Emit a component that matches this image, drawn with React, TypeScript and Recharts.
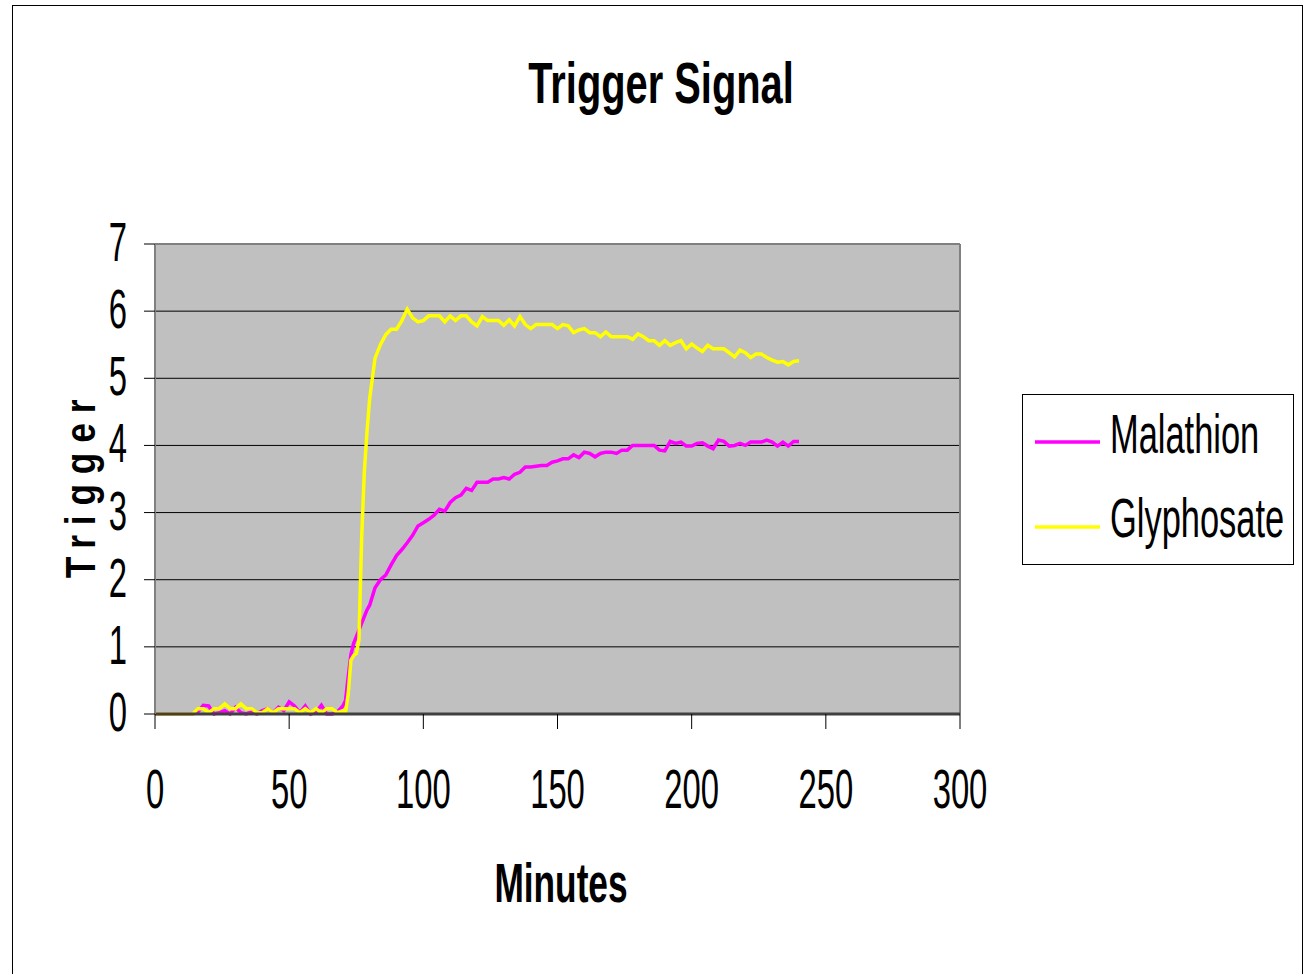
import React from "react";
import {
  LineChart,
  Line,
  XAxis,
  YAxis,
  CartesianGrid,
  ReferenceLine,
} from "recharts";

const FONT = "'Liberation Sans', Arial, sans-serif";

const minutes = [
  0, 2, 4, 6, 8, 10, 12, 14, 16, 18, 20, 22, 24, 26, 28, 30, 32, 34, 36, 38,
  40, 42, 44, 46, 48, 50, 52, 54, 56, 58, 60, 62, 64, 66, 68, 70,
  71, 72, 73, 74, 75, 76, 77, 78, 79, 80,
  82, 84, 86, 88, 90, 92, 94, 96, 98, 100,
  102, 104, 106, 108, 110, 112, 114, 116, 118, 120,
  122, 124, 126, 128, 130, 132, 134, 136, 138, 140,
  142, 144, 146, 148, 150, 152, 154, 156, 158, 160,
  162, 164, 166, 168, 170, 172, 174, 176, 178, 180,
  182, 184, 186, 188, 190, 192, 194, 196, 198, 200,
  202, 204, 206, 208, 210, 212, 214, 216, 218, 220,
  222, 224, 226, 228, 230, 232, 234, 236, 238, 240,
];

const malathion = [
  0, 0, 0, 0, 0, 0, 0, 0, 0.03, 0.13, 0.12, 0, 0.02, 0.05, 0, 0.1, 0.02, 0, 0.03, 0,
  0.05, 0.08, 0.02, 0.1, 0.05, 0.18, 0.12, 0.02, 0.12, 0, 0.03, 0.13, 0, 0, 0.03, 0.12,
  0.2, 0.55, 0.88, 1.05, 1.15, 1.25, 1.35, 1.45, 1.55, 1.62,
  1.88, 2.0, 2.07, 2.22, 2.36, 2.45, 2.55, 2.66, 2.8, 2.85,
  2.9, 2.96, 3.05, 3.02, 3.15, 3.22, 3.26, 3.36, 3.33, 3.45,
  3.45, 3.45, 3.5, 3.5, 3.52, 3.5, 3.57, 3.6, 3.68, 3.68,
  3.69, 3.7, 3.7, 3.75, 3.77, 3.8, 3.8, 3.86, 3.82, 3.9,
  3.88, 3.83, 3.88, 3.9, 3.9, 3.88, 3.93, 3.93, 4.0, 4.0,
  4.0, 4.0, 4.0, 3.93, 3.92, 4.06, 4.03, 4.05, 3.99, 3.99,
  4.03, 4.04, 3.99, 3.95, 4.08, 4.06, 3.99, 4.0, 4.03, 4.0,
  4.05, 4.05, 4.05, 4.08, 4.05, 3.99, 4.05, 3.99, 4.06, 4.06,
];

const glyphosate = [
  0, 0, 0, 0, 0, 0, 0, 0, 0.08, 0.08, 0.02, 0.08, 0.08, 0.15, 0.08, 0.08, 0.15, 0.08, 0.08, 0.02,
  0.02, 0.08, 0.02, 0.08, 0.08, 0.08, 0.08, 0.02, 0.08, 0.02, 0.08, 0.02, 0.08, 0.08, 0.02, 0.05,
  0.02, 0.3, 0.8, 0.87, 0.9, 1.1, 2.6, 3.6, 4.2, 4.7,
  5.3, 5.5, 5.65, 5.73, 5.73, 5.86, 6.03, 5.9, 5.84, 5.86,
  5.93, 5.93, 5.93, 5.84, 5.93, 5.86, 5.93, 5.93, 5.84, 5.78,
  5.92, 5.86, 5.86, 5.86, 5.79, 5.87, 5.78, 5.92, 5.8, 5.74,
  5.8, 5.8, 5.8, 5.8, 5.74, 5.8, 5.78, 5.68, 5.72, 5.74,
  5.68, 5.68, 5.62, 5.69, 5.62, 5.62, 5.62, 5.62, 5.58, 5.66,
  5.62, 5.56, 5.56, 5.49, 5.56, 5.49, 5.53, 5.56, 5.44, 5.51,
  5.45, 5.4, 5.49, 5.44, 5.44, 5.44, 5.38, 5.32, 5.42, 5.38,
  5.31, 5.36, 5.36, 5.31, 5.27, 5.24, 5.25, 5.2, 5.25, 5.26,
];

const xTicks = [0, 50, 100, 150, 200, 250, 300];
const yTicks = [0, 1, 2, 3, 4, 5, 6, 7];

const series = [
  { key: "malathion", name: "Malathion", color: "#FF00FF" },
  { key: "glyphosate", name: "Glyphosate", color: "#FFFF00" },
];

const data = minutes.map((m, i) => ({
  minute: m,
  malathion: malathion[i],
  glyphosate: glyphosate[i],
}));

const YTick = ({ x, y, payload }: any) => (
  <text
    transform={`translate(${x},${y + 17}) scale(0.82,1.4)`}
    textAnchor="end"
    fontSize={40}
    fontFamily={FONT}
    fill="#000"
  >
    {payload.value}
  </text>
);

const XTick = ({ x, y, payload }: any) => (
  <text
    transform={`translate(${x},${y + 79}) scale(0.82,1.4)`}
    textAnchor="middle"
    fontSize={40}
    fontFamily={FONT}
    fill="#000"
  >
    {payload.value}
  </text>
);

export default function App() {
  return (
    <div
      style={{
        position: "absolute",
        left: 12,
        top: 5,
        width: 1291,
        height: 990,
        border: "1px solid #000",
        boxSizing: "border-box",
        background: "#fff",
      }}
    >
      <style>{`body{overflow:hidden}`}</style>
      <LineChart
        width={1289}
        height={968}
        data={data}
        margin={{ top: 238, right: 342, bottom: 200, left: 62 }}
      >
        <CartesianGrid vertical={false} stroke="#000" fill="#C0C0C0" />
        <XAxis
          dataKey="minute"
          type="number"
          domain={[0, 300]}
          ticks={xTicks}
          height={60}
          tickSize={15}
          tickMargin={0}
          axisLine={{ stroke: "#404040", strokeWidth: 3 }}
          tickLine={{ stroke: "#000" }}
          tick={<XTick />}
        />
        <YAxis
          domain={[0, 7]}
          ticks={yTicks}
          width={80}
          tickSize={11}
          tickMargin={17}
          axisLine={{ stroke: "#808080", strokeWidth: 2 }}
          tickLine={{ stroke: "#000" }}
          tick={<YTick />}
        />
        <ReferenceLine y={7} stroke="#808080" strokeWidth={2} />
        <ReferenceLine x={300} stroke="#808080" strokeWidth={2} />
        {series.map((s) => (
          <Line
            key={s.key}
            type="linear"
            dataKey={s.key}
            name={s.name}
            stroke={s.color}
            strokeWidth={3.5}
            dot={false}
            isAnimationActive={false}
          />
        ))}
      </LineChart>

      <svg
        width={1289}
        height={968}
        style={{ position: "absolute", left: 0, top: 0, pointerEvents: "none" }}
        fontFamily={FONT}
      >
        <text
          transform="translate(648,97) scale(0.83,1.19)"
          textAnchor="middle"
          fontSize={48}
          fontWeight="bold"
        >
          Trigger Signal
        </text>
        <text
          transform="translate(548,896) scale(0.82,1.3)"
          textAnchor="middle"
          fontSize={43}
          fontWeight="bold"
        >
          Minutes
        </text>
        <text
          transform="translate(82,478) rotate(-90) scale(0.82,1.0)"
          textAnchor="middle"
          fontSize={43}
          fontWeight="bold"
          letterSpacing={12}
        >
          Trigger
        </text>

        <g transform="translate(1009,388)">
          <rect x={0.5} y={0.5} width={271} height={170} fill="#fff" stroke="#000" />
          {series.map((s, i) => (
            <g key={s.key}>
              <line
                x1={13}
                x2={78}
                y1={48 + i * 85}
                y2={48 + i * 85}
                stroke={s.color}
                strokeWidth={3.5}
              />
              <text
                transform={`translate(88,${59 + i * 84}) scale(0.82,1.3)`}
                fontSize={42}
              >
                {s.name}
              </text>
            </g>
          ))}
        </g>
      </svg>
    </div>
  );
}
